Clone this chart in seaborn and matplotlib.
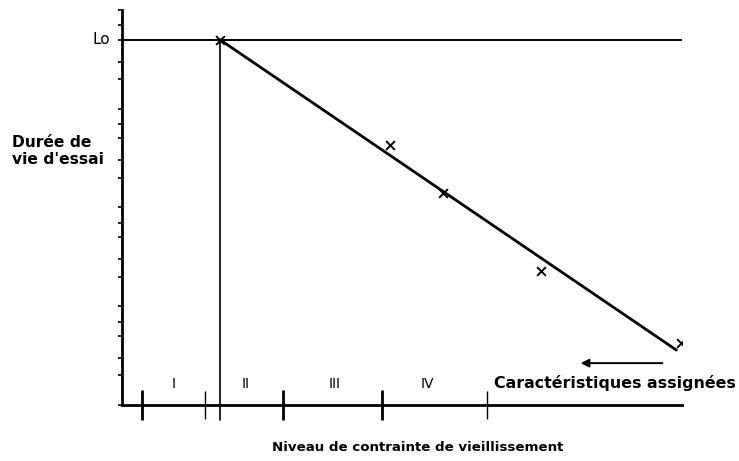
import numpy as np
import pandas as pd
import seaborn as sns
import matplotlib
matplotlib.use("Agg")
import matplotlib.pyplot as plt
from matplotlib.ticker import LogLocator, NullFormatter, NullLocator
import matplotlib.transforms as mtransforms

# ---- data ----
stress_levels = [17.5, 47.9, 57.3, 74.8, 99.8]          # test stress levels
test_life = [5000, 430, 140, 23, 4.2]                   # test lifetimes (log scale)
fit_stress = [17.5, 99.0]
fit_life = [5000, 3.6]
Lo = 5000
zone_labels = ["I", "II", "III", "IV"]
zone_label_x = [9.3, 22.1, 38.0, 54.6]
major_ticks = [3.6, 28.75, 46.4]
minor_ticks = [14.8, 65.2]

sns.set_theme(style="white")
plt.rcParams['font.family'] = ['DejaVu Sans']
plt.rcParams['text.color'] = 'black'

fig = plt.figure(figsize=(7.39, 4.61), dpi=100)
ax = fig.add_axes([122/739, 1-405/461, (682-122)/739, (405-10)/461])

df_pts = pd.DataFrame({"stress": stress_levels, "life": test_life})
df_fit = pd.DataFrame({"stress": fit_stress, "life": fit_life})

sns.lineplot(data=df_fit, x="stress", y="life", ax=ax, color="black", lw=2.0)
sns.scatterplot(data=df_pts, x="stress", y="life", ax=ax, marker="x", color="black",
                s=40, linewidth=1.4, zorder=3)

ax.set_yscale("log")
ax.set_ylim(1, 1e4)
ax.set_xlim(0, 100)

# Lo horizontal line and vertical reference line
ax.axhline(Lo, color="black", lw=1.4)
ax.plot([fit_stress[0], fit_stress[0]], [0.7, Lo], color="black", lw=1.2, clip_on=False)

# spines
for s in ["top", "right"]:
    ax.spines[s].set_visible(False)
for s in ["left", "bottom"]:
    ax.spines[s].set_linewidth(2.0)
    ax.spines[s].set_color("black")

# y ticks: small log ticks only, no labels
ax.yaxis.set_major_locator(LogLocator(base=10, subs=[1, 2, 3, 5, 7], numticks=20))
ax.yaxis.set_minor_locator(NullLocator())
ax.yaxis.set_major_formatter(NullFormatter())
ax.tick_params(axis="y", which="major", direction="out", length=3, width=1.2, color="black", left=True)

# x ticks crossing the axis
ax.set_xticks(major_ticks)
ax.set_xticklabels([])
ax.set_xticks(minor_ticks, minor=True)
ax.tick_params(axis="x", which="major", direction="inout", length=22, width=2.0, color="black", bottom=True)
ax.tick_params(axis="x", which="minor", direction="inout", length=20, width=1.0, color="black", bottom=True)

trans = mtransforms.blended_transform_factory(ax.transData, ax.transAxes)
for lab, xv in zip(zone_labels, zone_label_x):
    ax.text(xv, 0.035, lab, transform=trans, ha="center", va="bottom", fontsize=10, color="black")

ax.text(66.4, 0.035, "Caractéristiques assignées", transform=trans, ha="left", va="bottom",
        fontsize=11.4, fontweight="bold", color="black", clip_on=False)

ax.annotate("", xy=(81.4, 0.106), xytext=(97.0, 0.106), xycoords=trans, textcoords=trans,
            arrowprops=dict(arrowstyle="-|>", color="black", lw=1.4, mutation_scale=12))

ax.set_xlabel("")
ax.set_ylabel("")
fig.text(418/739, 1-447/461, "Niveau de contrainte de vieillissement", ha="center", va="center",
         fontsize=9.6, fontweight="bold")

fig.text(110/739, 1-40/461, "Lo", ha="right", va="center", fontsize=11)
fig.text(12/739, 1-151/461, "Durée de\nvie d'essai", ha="left", va="center", fontsize=11.2,
         fontweight="bold", linespacing=1.2)

fig.savefig("out.png", dpi=100)
